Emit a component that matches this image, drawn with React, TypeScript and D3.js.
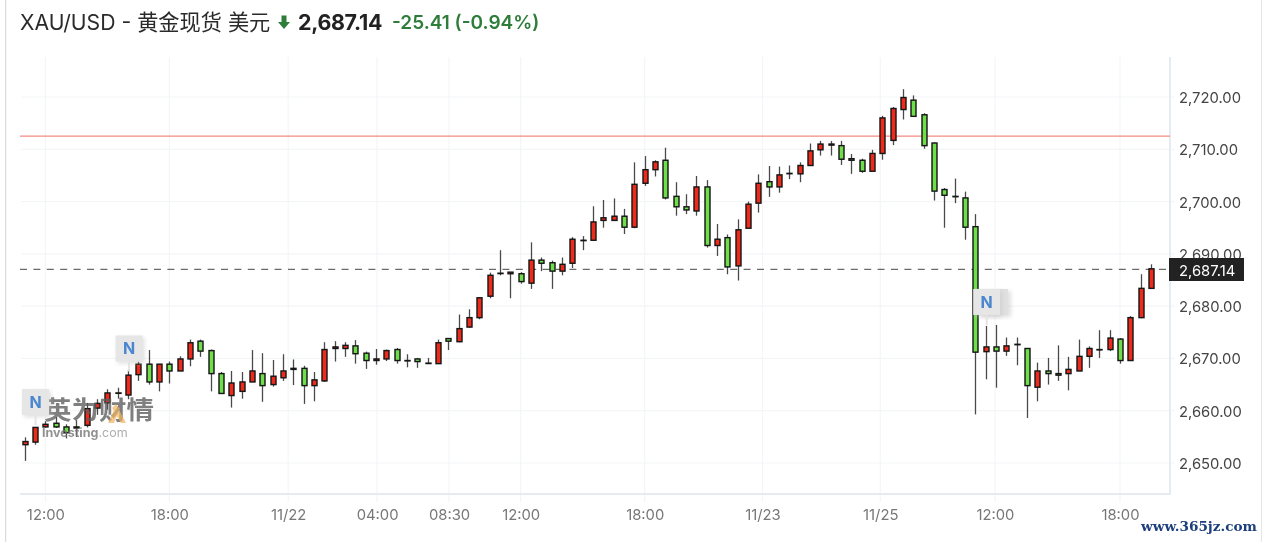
import React from "react";
import * as d3 from "d3";

const W = 1264, H = 542;
const opens = [2653.5,2654.0,2656.9,2657.6,2656.9,2656.9,2657.2,2660.5,2661.5,2663.4,2663.0,2666.9,2668.9,2665.5,2668.9,2667.6,2669.9,2673.3,2671.5,2667.1,2662.9,2663.7,2665.5,2667.1,2665.0,2666.3,2668.1,2668.1,2664.8,2665.7,2671.9,2671.9,2672.4,2671.0,2669.6,2669.9,2671.7,2669.6,2669.9,2669.1,2669.0,2673.8,2673.2,2676.0,2677.8,2681.9,2686.3,2686.2,2686.2,2684.4,2688.8,2688.3,2686.7,2688.2,2692.6,2692.6,2696.4,2696.4,2697.2,2695.1,2703.5,2706.1,2707.9,2701.0,2699.0,2698.2,2702.8,2691.6,2693.1,2687.7,2694.9,2699.7,2703.8,2702.8,2705.4,2705.3,2706.9,2709.9,2710.8,2710.7,2708.2,2707.9,2705.8,2709.2,2711.7,2717.6,2719.4,2716.6,2711.2,2702.3,2701.0,2700.7,2695.2,2671.3,2672.2,2671.4,2672.7,2671.9,2664.5,2667.6,2667.1,2667.1,2667.6,2670.4,2671.7,2671.7,2673.7,2669.6,2677.8,2683.4];
const highs = [2654.9,2656.9,2658.0,2658.8,2657.4,2658.2,2661.5,2662.2,2664.1,2664.4,2667.8,2669.4,2671.6,2668.9,2669.4,2670.4,2673.6,2673.6,2671.7,2667.4,2667.6,2667.4,2671.6,2671.0,2669.7,2670.8,2669.8,2668.6,2667.4,2673.1,2673.3,2673.1,2673.5,2671.3,2671.8,2671.7,2672.0,2670.8,2670.1,2670.1,2673.6,2673.9,2678.4,2679.4,2681.7,2686.4,2690.7,2686.5,2686.5,2692.2,2689.3,2688.7,2689.3,2693.2,2693.4,2699.1,2700.3,2700.6,2698.6,2707.5,2708.7,2707.9,2710.3,2703.7,2701.4,2704.9,2704.1,2695.7,2693.7,2696.6,2700.0,2705.2,2706.8,2706.7,2706.9,2707.5,2711.1,2711.6,2711.6,2711.6,2709.1,2708.2,2709.9,2716.4,2718.1,2721.5,2720.3,2716.9,2711.3,2702.6,2704.4,2701.9,2697.6,2676.2,2676.4,2674.0,2674.0,2672.0,2669.2,2670.1,2672.5,2670.3,2673.6,2672.3,2675.4,2675.4,2673.9,2678.1,2686.1,2688.0];
const lows = [2650.4,2653.5,2656.8,2656.7,2654.7,2655.0,2656.8,2659.2,2660.2,2662.3,2662.2,2665.7,2665.0,2663.7,2665.2,2667.6,2668.5,2670.3,2663.7,2663.2,2660.6,2662.3,2665.5,2661.7,2664.6,2665.7,2664.9,2661.3,2661.8,2665.5,2669.4,2670.3,2669.0,2668.0,2668.8,2669.5,2669.0,2668.3,2668.2,2669.0,2669.0,2671.6,2673.1,2675.9,2677.5,2681.5,2685.9,2681.5,2684.3,2683.3,2686.7,2683.3,2685.9,2687.3,2690.7,2692.6,2695.0,2696.4,2693.8,2694.9,2703.0,2704.8,2700.4,2697.3,2697.6,2697.3,2691.2,2689.6,2686.1,2684.9,2694.9,2697.9,2700.9,2701.7,2704.3,2703.7,2706.9,2708.8,2708.8,2707.0,2705.3,2705.5,2705.8,2708.0,2710.8,2715.7,2716.3,2710.1,2700.2,2695.0,2699.7,2692.7,2659.3,2666.0,2664.4,2670.5,2668.7,2658.6,2661.8,2665.0,2665.7,2663.9,2667.6,2668.2,2670.1,2671.4,2669.0,2669.6,2677.7,2683.4];
const closes = [2654.1,2656.8,2657.4,2656.9,2655.8,2656.7,2660.4,2661.4,2663.4,2663.4,2666.8,2668.9,2665.5,2668.9,2667.6,2669.9,2673.0,2671.4,2667.1,2663.3,2665.3,2665.5,2667.6,2664.8,2666.6,2667.6,2667.9,2664.8,2665.9,2671.7,2672.2,2672.5,2670.9,2669.6,2669.9,2671.5,2669.6,2669.6,2669.4,2669.1,2673.0,2673.3,2675.7,2677.8,2681.6,2685.9,2686.3,2686.5,2684.7,2688.8,2688.2,2686.7,2688.0,2692.8,2692.6,2696.1,2696.9,2697.2,2695.1,2703.3,2706.1,2707.6,2700.7,2699.0,2698.4,2702.8,2691.6,2692.8,2687.5,2694.6,2699.5,2703.5,2702.8,2705.1,2705.4,2706.9,2709.7,2711.0,2711.0,2708.1,2707.9,2705.8,2709.2,2716.0,2717.8,2719.9,2716.3,2710.7,2702.0,2701.2,2701.0,2695.1,2671.2,2672.2,2671.4,2672.4,2672.7,2664.8,2667.6,2667.1,2666.8,2667.9,2670.4,2671.9,2671.7,2673.9,2669.6,2677.8,2683.4,2687.14];

const priceTicks = [2650, 2660, 2670, 2680, 2690, 2700, 2710, 2720];
const timeLabels = ["12:00", "18:00", "11/22", "04:00", "08:30", "12:00", "18:00", "11/23", "11/25", "12:00", "18:00"];
const timeTickIndex = [2, 14, 25.5, 34.1, 41.07, 48, 60, 71.4, 82.8, 93.9, 106];
const lastPrice = 2687.14;
const redLevel = 2712.5;
const newsBadges = [
  { index: 1.05, price: 2661.65 },
  { index: 10.1, price: 2671.9 },
  { index: 93.1, price: 2680.8 },
];

const UP = "#ee2c1c", DOWN = "#6ede4b", INK = "#141414";
const LEFT = 20, RIGHT = 1170, TOP = 57, BOTTOM = 494;
const x = d3.scaleLinear().domain([0, 109]).range([24.7, 1151]);
const y = d3.scaleLinear().domain([2650, 2720]).range([463, 97]);
const fmt = d3.format(",.2f");
const FONT = "Inter, 'Noto Sans CJK SC', sans-serif";

function Badge({ cx, cy }: { cx: number; cy: number }) {
  return (
    <g>
      <rect x={cx - 13.5} y={cy - 13} width={27} height={26} fill="#bbb" opacity={0.45} transform="translate(2,2)" filter="url(#soft)" />
      <line x1={cx} x2={cx} y1={cy + 13} y2={cy + 23} stroke="#e4e4e4" strokeWidth={2} />
      <rect x={cx - 13.5} y={cy - 13} width={27} height={26} fill="#e6e6e6" />
      <text x={cx} y={cy + 6} textAnchor="middle" fontFamily={FONT} fontWeight={700} fontSize={16} fill="#4a86cf">N</text>
    </g>
  );
}

export default function App() {
  React.useEffect(() => { document.body.style.margin = "0"; document.body.style.background = "#fff"; }, []);
  return (
    <svg width={W} height={H} viewBox={`0 0 ${W} ${H}`} style={{ display: "block" }}>
      <defs>
        <filter id="soft"><feGaussianBlur stdDeviation="2" /></filter>
        <filter id="faint" x="0" y="0" width="100%" height="100%"><feGaussianBlur stdDeviation="0.3" /></filter>
      </defs>
      <rect width={W} height={H} fill="#fff" />
      <g filter="url(#faint)">
      <line x1={5.5} x2={5.5} y1={0} y2={H} stroke="#dcdcdc" strokeWidth={1.5} />
      <line x1={1262} x2={1262} y1={0} y2={H} stroke="#dcdcdc" strokeWidth={1.5} />

      <text x={20} y={30} fontFamily={FONT} fontSize={21.2} fill="#2a2a2a">XAU/USD - 黄金现货 美元</text>
      <path d="M281.5 15.5h5v6.5h3.5l-6 7-6-7h3.5z" fill="#2f7d3b" />
      <text x={298} y={30} fontFamily={FONT} fontSize={21.4} fontWeight={700} fill="#222" letterSpacing={-0.3}>2,687.14</text>
      <text x={392} y={28.5} fontFamily={FONT} fontSize={19} fontWeight={600} fill="#2f7d3b" letterSpacing={0}>-25.41 (-0.94%)</text>

      {priceTicks.map((t) => (
        <line key={t} x1={21} x2={RIGHT + 5} y1={y(t)} y2={y(t)} stroke="#f4f5f7" strokeWidth={1.2} />
      ))}
      {timeTickIndex.map((t) => (
        <line key={t} x1={x(t)} x2={x(t)} y1={TOP} y2={BOTTOM + 8} stroke="#f4f5f7" strokeWidth={1.2} />
      ))}
      <line x1={RIGHT} x2={RIGHT} y1={TOP} y2={BOTTOM + 1} stroke="#e6ebf2" strokeWidth={2} />
      <line x1={LEFT} x2={RIGHT + 1} y1={BOTTOM} y2={BOTTOM} stroke="#e6ebf2" strokeWidth={2} />

      <line x1={LEFT} x2={RIGHT} y1={y(redLevel)} y2={y(redLevel)} stroke="#f58a82" strokeWidth={1.2} />
      <line x1={LEFT} x2={RIGHT} y1={y(lastPrice) + 0.5} y2={y(lastPrice) + 0.5} stroke="#444" strokeWidth={1} strokeDasharray="7 6.4" />

      {opens.map((o, i) => {
        const c = closes[i];
        const top = y(Math.max(o, c));
        const bot = y(Math.min(o, c));
        const cx = Math.round(x(i)) + 0.5;
        return (
          <g key={i}>
            <line x1={cx} x2={cx} y1={y(highs[i])} y2={y(lows[i])} stroke="#4a4a4a" strokeWidth={1.3} />
            <rect x={cx - 2.5} y={top} width={5} height={Math.max(bot - top, 0.4)} fill={c >= o ? UP : DOWN} stroke={INK} strokeWidth={1.4} />
          </g>
        );
      })}

      <g style={{ pointerEvents: "none" }}>
        <text x={44} y={419} fontFamily="'Noto Sans CJK SC'" fontSize={25} fontWeight={700} fill="#5c5c5c" opacity={0.78} textLength={110} lengthAdjust="spacingAndGlyphs">英为财情</text>
        <path d="M108 423l8-17 4 2-6 15zM116 404l10 19h-5l-9-15z" fill="#f0b35e" opacity={0.7} />
        <text x={42} y={437} fontFamily={FONT} fontSize={12.5} fill="#777" opacity={0.8}><tspan fontWeight={700}>Investing</tspan><tspan fill="#999">.com</tspan></text>
      </g>

      <rect x={980} y={289} width={29} height={26} fill="#bbb" opacity={0.45} transform="translate(2,2)" filter="url(#soft)" />
      <rect x={980} y={289} width={28} height={26} fill="#e0e0e0" />
      {newsBadges.map((b) => (
        <Badge key={b.index} cx={x(b.index)} cy={y(b.price)} />
      ))}

      {priceTicks.map((t) => (
        <text key={t} x={1179} y={y(t) + 6} fontFamily={FONT} fontSize={14.8} fill="#444">{fmt(t)}</text>
      ))}
      <rect x={1169} y={258} width={75} height={23} fill="#232323" />
      <text x={1179} y={y(lastPrice) + 7.5} fontFamily={FONT} fontSize={14.8} fill="#fff">{fmt(lastPrice)}</text>

      {timeLabels.map((l, i) => (
        <text key={i} x={x(timeTickIndex[i]) + 0.5} y={519.5} textAnchor="middle" fontFamily={FONT} fontSize={14.8} fill="#777">{l}</text>
      ))}

      <text x={1141} y={531} fontFamily="'DejaVu Serif', serif" fontWeight={700} fontSize={13.6} fill="#1c3f7c">www.365jz.com</text>
      </g>
    </svg>
  );
}
